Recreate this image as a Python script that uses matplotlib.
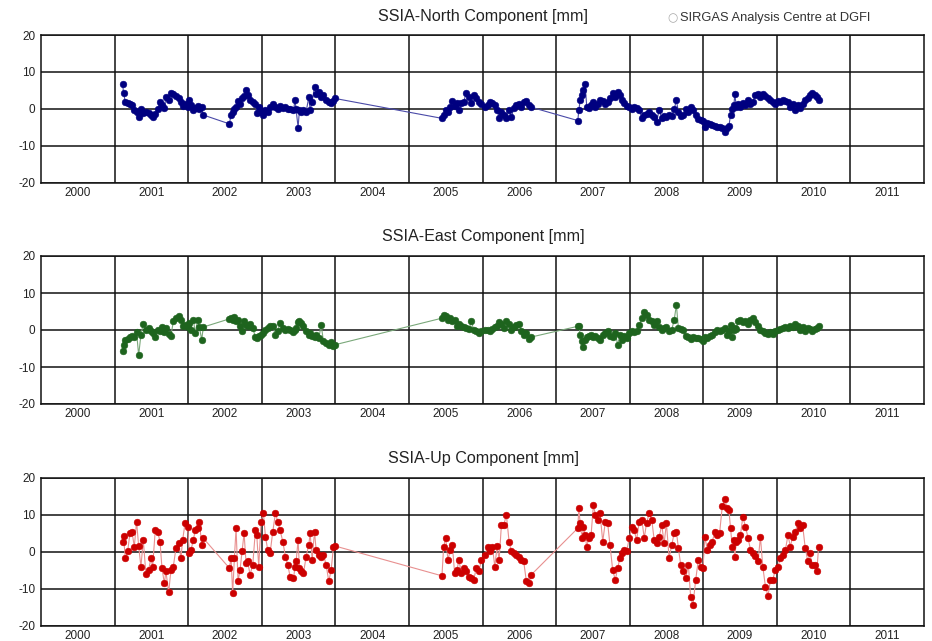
import matplotlib
matplotlib.use("Agg")
import matplotlib.pyplot as plt
import numpy as np

# ---- data (decimal years, mm) ----
epochs = [
    # segment 1
    2000.609, 2000.622, 2000.645, 2000.677, 2000.709, 2000.736, 2000.768, 2000.799, 2000.827, 2000.858,
    2000.890, 2000.926, 2000.963, 2000.994, 2001.017, 2001.053, 2001.085, 2001.117, 2001.144, 2001.176,
    2001.198, 2001.235, 2001.266, 2001.298, 2001.334, 2001.371, 2001.402, 2001.425, 2001.457, 2001.493,
    2001.516, 2001.539, 2001.570, 2001.597, 2001.629, 2001.652, 2001.684, 2001.706,
    # segment 2
    2002.060, 2002.083, 2002.105, 2002.128, 2002.151, 2002.178, 2002.205, 2002.232, 2002.260, 2002.287,
    2002.309, 2002.341, 2002.378, 2002.414, 2002.432, 2002.459, 2002.491, 2002.523, 2002.550, 2002.582,
    2002.613, 2002.650, 2002.686, 2002.718, 2002.749, 2002.786, 2002.822, 2002.854, 2002.885, 2002.931,
    2002.953, 2002.967, 2002.994, 2003.012, 2003.040, 2003.067, 2003.103, 2003.139, 2003.158, 2003.185,
    2003.217, 2003.239, 2003.276, 2003.307, 2003.339, 2003.375, 2003.411, 2003.443, 2003.475, 2003.493,
    # segment 3
    2004.949, 2004.972, 2004.999, 2005.031, 2005.062, 2005.090, 2005.121, 2005.153, 2005.180, 2005.212,
    2005.244, 2005.280, 2005.316, 2005.348, 2005.380, 2005.416, 2005.452, 2005.484, 2005.530, 2005.575,
    2005.599, 2005.635, 2005.667, 2005.699, 2005.726, 2005.757, 2005.789, 2005.825, 2005.861, 2005.893,
    2005.924, 2005.960, 2005.996, 2006.028, 2006.060, 2006.096, 2006.132, 2006.163,
    # segment 4
    2006.795, 2006.809, 2006.827, 2006.854, 2006.872, 2006.894, 2006.917, 2006.944, 2006.976, 2007.007,
    2007.034, 2007.066, 2007.097, 2007.134, 2007.170, 2007.201, 2007.233, 2007.269, 2007.305, 2007.337,
    2007.368, 2007.395, 2007.427, 2007.458, 2007.495, 2007.531, 2007.562, 2007.594, 2007.630, 2007.666,
    2007.698, 2007.729, 2007.765, 2007.801, 2007.833, 2007.865, 2007.901, 2007.937, 2007.968, 2008.000,
    2008.036, 2008.072, 2008.104, 2008.135, 2008.162, 2008.194, 2008.226, 2008.262, 2008.298, 2008.329,
    2008.361, 2008.397, 2008.433, 2008.465, 2008.496, 2008.523, 2008.555, 2008.587, 2008.623, 2008.659,
    2008.690, 2008.722, 2008.758, 2008.794, 2008.826, 2008.848, 2008.871, 2008.894, 2008.916, 2008.930,
    2008.948, 2008.975, 2009.006, 2009.038, 2009.074, 2009.110, 2009.142, 2009.173, 2009.209, 2009.245,
    2009.277, 2009.309, 2009.345, 2009.381, 2009.412, 2009.444, 2009.480, 2009.516, 2009.548, 2009.579,
    2009.616, 2009.652, 2009.683, 2009.715, 2009.751, 2009.787, 2009.819, 2009.850, 2009.886, 2009.922,
    2009.954, 2009.976, 2010.013, 2010.044, 2010.067,
]

north = [
    6.7, 4.3, 1.9, 1.6, 1.4, 1.0, -0.4, -0.9, -2.3, 0.0,
    -1.1, -0.8, -1.1, -1.7, -2.3, -1.3, -0.2, 1.9, 1.0, 0.1,
    3.2, 2.5, 4.3, 4.0, 3.4, 2.8, 1.9, 0.7, 1.4, 0.4,
    2.3, 1.0, -0.4, 0.1, 0.7, -0.2, 0.4, -1.7,
    -4.1, -1.7, -0.8, -0.2, 0.5, 2.2, 1.4, 2.8, 3.4, 5.2,
    3.7, 2.3, 1.9, 1.3, -1.1, 0.5, -0.8, -1.7, -0.4, -0.8,
    0.4, 1.4, 0.5, -0.2, 0.7, 0.1, 0.4, 0.0, 0.0, -0.4,
    2.3, -0.2, -5.1, -0.4, -0.8, -0.4, -0.8, 3.1, -0.4, 1.9,
    5.9, 4.1, 4.6, 3.2, 3.7, 2.3, 1.9, 1.6, 2.2, 2.8,
    -2.6, -1.7, -0.4, -0.8, 0.4, 2.2, 0.7, 1.6, -0.4, 1.6,
    1.9, 4.3, 3.2, 1.6, 3.7, 2.8, 1.9, 1.3, 0.5, 1.0,
    1.9, 1.6, 1.0, -0.4, -2.6, -0.8, -1.7, -2.6, -0.4, -2.3,
    0.1, 1.0, 1.4, 0.5, 1.9, 2.2, 1.0, 0.4,
    -3.2, -0.4, 2.3, 3.7, 5.0, 6.7, 0.5, 0.1, 1.0, 1.9,
    0.5, 1.3, 2.3, 2.2, 1.4, 1.9, 2.8, 4.3, 3.2, 4.6,
    3.7, 2.3, 1.6, 0.7, 0.4, -0.2, 0.5, 0.1, -0.4, -2.6,
    -1.7, -1.3, -0.8, -1.7, -2.3, -3.5, -0.4, -2.6, -2.0, -2.3,
    -1.7, -2.0, -0.2, 2.3, -0.8, -2.0, -1.7, -0.2, -0.8, 0.4,
    -0.4, -1.7, -2.9, -3.1, -3.2, -4.9, -3.8, -4.1, -4.4, -4.7,
    -5.0, -4.9, -5.3, -6.2, -5.3, -4.7, -1.7, -0.2, 1.0, 4.0,
    0.5, 1.3, 0.5, 1.6, 1.0, 2.3, 1.3, 1.9, 3.7, 4.0,
    3.2, 4.1, 3.4, 2.8, 2.3, 1.9, 1.4, 2.2, 1.9, 2.3,
    2.2, 1.9, 0.5, 1.4, -0.4, 1.0, 0.1, 1.3, 2.3, 2.8,
    3.7, 4.3, 3.7, 3.2, 2.5,
]

east = [
    -5.8, -4.0, -2.6, -2.4, -1.9, -1.5, -1.9, -0.6, -6.8, -1.3,
    1.7, 0.1, 0.5, -0.4, -0.8, -1.9, 0.1, -0.4, 0.8, -0.6,
    0.5, -1.0, -1.5, 2.3, 3.2, 3.7, 2.8, 1.0, 1.4, 0.8,
    1.9, 0.1, 2.8, -0.8, 2.8, 0.8, -2.6, 0.8,
    3.0, 3.2, 2.8, 3.5, 2.3, 2.8, 1.2, -0.4, 2.3, 1.4,
    1.0, 1.7, 0.5, -1.9, -2.2, -1.5, -1.3, -0.8, 0.1, 0.5,
    1.2, 1.0, -1.3, -0.4, 1.9, 0.5, 0.1, 0.3, -0.1, -0.6,
    0.1, 0.5, 2.1, 2.3, 1.9, 1.0, -0.4, -1.3, -0.8, -1.5,
    -1.9, -1.3, -2.2, 1.4, -3.1, -3.5, -4.0, -3.3, -4.4, -4.0,
    3.2, 4.1, 3.7, 2.8, 3.2, 2.3, 2.6, 1.0, 1.7, 1.2,
    0.8, 0.5, 0.3, 2.3, 0.1, -0.4, -0.8, -0.4, 0.1, -0.1,
    -0.4, 0.3, 0.8, 1.2, 2.1, 1.7, 0.5, 2.3, 1.7, 0.1,
    0.8, 1.4, 1.7, -0.4, -1.3, -0.8, -2.4, -1.9,
    1.0, 1.2, -1.3, -3.1, -4.6, -2.6, -1.9, -1.5, -1.3, -1.9,
    -1.5, -2.2, -2.6, -1.3, -0.8, -0.4, -1.5, -1.9, -0.8, -4.0,
    -1.3, -2.6, -1.5, -2.2, -0.8, -0.4, -0.6, -0.4, 1.4, 3.2,
    4.8, 4.1, 2.8, 2.3, 1.4, 2.3, 0.8, 0.1, 0.5, 0.8,
    -0.4, 0.1, 2.6, 6.8, 0.5, 0.3, 0.1, -1.5, -1.9, -2.4,
    -1.9, -2.2, -2.2, -2.4, -3.1, -1.9, -2.2, -1.5, -1.3, -0.6,
    0.1, -0.4, 0.1, 0.5, -1.3, -0.4, 1.4, -1.9, 0.1, 0.5,
    0.3, 2.3, 2.6, 2.1, 2.3, 1.7, 2.6, 3.2, 2.1, 1.0,
    0.1, -0.4, -0.8, -1.0, -0.6, -1.0, -0.4, 0.1, 0.3, 0.5,
    0.8, 0.5, 1.2, 0.8, 1.7, 1.0, 0.1, 0.8, -0.4, 0.5,
    0.3, -0.4, 0.3, 0.5, 1.0,
]

up = [
    2.8, 4.3, -1.7, 0.1, 5.0, 5.5, 1.4, 8.2, 1.6, -4.0,
    3.2, -6.1, -4.9, -1.7, -4.0, 5.9, 5.5, 2.8, -4.4, -8.5,
    -5.3, -11.0, -4.9, -4.0, 1.0, 2.3, -1.7, 3.2, 7.7, 6.8,
    -0.4, 0.5, 3.2, 5.9, 6.4, 8.2, 1.9, 3.7,
    -4.4, -1.7, -11.2, -1.7, 6.4, -8.0, -4.9, 0.1, 5.0, -3.1,
    -2.6, -6.2, -3.5, 5.9, 4.6, -4.0, 8.2, 10.5, 4.1, 0.5,
    -0.4, 5.5, 10.5, 8.2, 5.9, 2.8, -1.3, -3.5, -6.7, -7.2,
    -4.0, -2.6, 3.2, -4.4, -5.3, -5.8, -1.3, 1.9, 5.0, -2.2,
    5.5, 0.5, -0.8, -1.3, -0.8, -3.5, -8.0, -4.9, 1.4, 1.6,
    -6.5, 1.4, 3.7, -2.2, 0.5, 1.9, -5.8, -4.9, -2.2, -5.8,
    -4.4, -5.3, -6.7, -7.1, -7.6, -4.4, -5.3, -2.2, -0.8, 1.4,
    0.1, 1.4, -4.0, 1.6, -2.2, 7.3, 7.3, 10.0, 2.8, 0.1,
    -0.2, -0.8, -1.4, -2.2, -2.6, -8.0, -8.5, -6.2,
    6.4, 11.8, 7.7, 3.7, 6.8, 4.6, 1.4, 3.7, 4.6, 12.7,
    10.0, 8.6, 10.5, 2.8, 8.2, 7.7, 1.9, -4.9, -7.6, -4.4,
    -1.7, -0.4, 0.5, 0.1, 3.7, 6.8, 5.9, 3.2, 8.2, 8.6,
    3.7, 7.7, 10.5, 8.6, 3.2, 2.3, 4.1, 7.3, 2.3, 7.7,
    -1.7, 1.9, 5.0, 5.5, 1.0, -3.5, -5.3, -7.1, -3.5, -12.3,
    -14.3, -7.6, -2.2, -4.0, -4.4, 4.1, 0.5, 1.9, 2.8, 5.5,
    4.6, 5.0, 12.3, 14.2, 11.8, 11.4, 6.4, 1.4, 3.2, -1.3,
    2.8, 3.2, 4.6, 9.5, 6.8, 3.7, 0.5, -0.4, -1.1, -2.6,
    4.1, -4.0, -9.4, -11.9, -7.6, -7.6, -4.9, -4.0, -1.7, -0.8,
    0.5, 4.6, 1.4, 4.1, 5.5, 7.7, 6.4, 7.3, 1.0, -2.6,
    -0.4, -3.5, -3.5, -5.3, 1.3,
]

titles = ["SSIA-North Component [mm]", "SSIA-East Component [mm]", "SSIA-Up Component [mm]"]
year_labels = list(range(2000, 2012))
y_ticks = [-20, -10, 0, 10, 20]

# ---- styling ----
series = [
    (north, "#000080", "#4a4aa8"),
    (east, "#1e641e", "#7aa87a"),
    (up, "#cc0000", "#e89090"),
]

plt.rcParams["font.family"] = ["Liberation Sans", "DejaVu Sans"]
plt.rcParams["axes.unicode_minus"] = False

W, H = 932, 641
fig = plt.figure(figsize=(W / 100, H / 100), dpi=100)

panels_px = [(35, 182.5), (256, 404), (478, 625.7)]
left_px, right_px = 41, 924
title_y_px = [16, 237, 458]

for i, ((vals, mcol, lcol), (top, bot)) in enumerate(zip(series, panels_px)):
    ax = fig.add_axes([left_px / W, 1 - bot / H, (right_px - left_px) / W, (bot - top) / H])
    ax.plot(epochs, vals, color=lcol, lw=0.8, zorder=3)
    ax.plot(epochs, vals, ls="none", marker="o", ms=4.8, mfc=mcol, mec=mcol, mew=0.4, zorder=4)
    ax.set_xlim(1999.5, 2011.5)
    ax.set_ylim(-20, 20)
    ax.set_xticks(year_labels)
    ax.set_xticklabels([str(y) for y in year_labels])
    ax.set_xticks([y + 0.5 for y in year_labels[:-1]], minor=True)
    ax.set_yticks(y_ticks)
    ax.grid(which="minor", axis="x", color="#111111", lw=1.1, zorder=1)
    ax.grid(which="major", axis="y", color="#111111", lw=1.1, zorder=1)
    ax.grid(which="major", axis="x", visible=False)
    ax.tick_params(which="both", length=0, labelsize=8.5, colors="#222222")
    ax.tick_params(axis="x", pad=3)
    ax.tick_params(axis="y", pad=4)
    for sp in ax.spines.values():
        sp.set_linewidth(1.1)
        sp.set_color("#111111")
    fig.text(483 / W, 1 - title_y_px[i] / H, titles[i], ha="center", va="center",
             fontsize=11.6, color="#222222")

fig.text(667 / W, 1 - 18 / H, "\u25cb", ha="left", va="center", fontsize=8.5,
         color="#aaaaaa", family=["DejaVu Sans"])
fig.text(680 / W, 1 - 18 / H, "SIRGAS Analysis Centre at DGFI", ha="left", va="center",
         fontsize=9.3, color="#333333")

fig.savefig("out.png", dpi=100)
